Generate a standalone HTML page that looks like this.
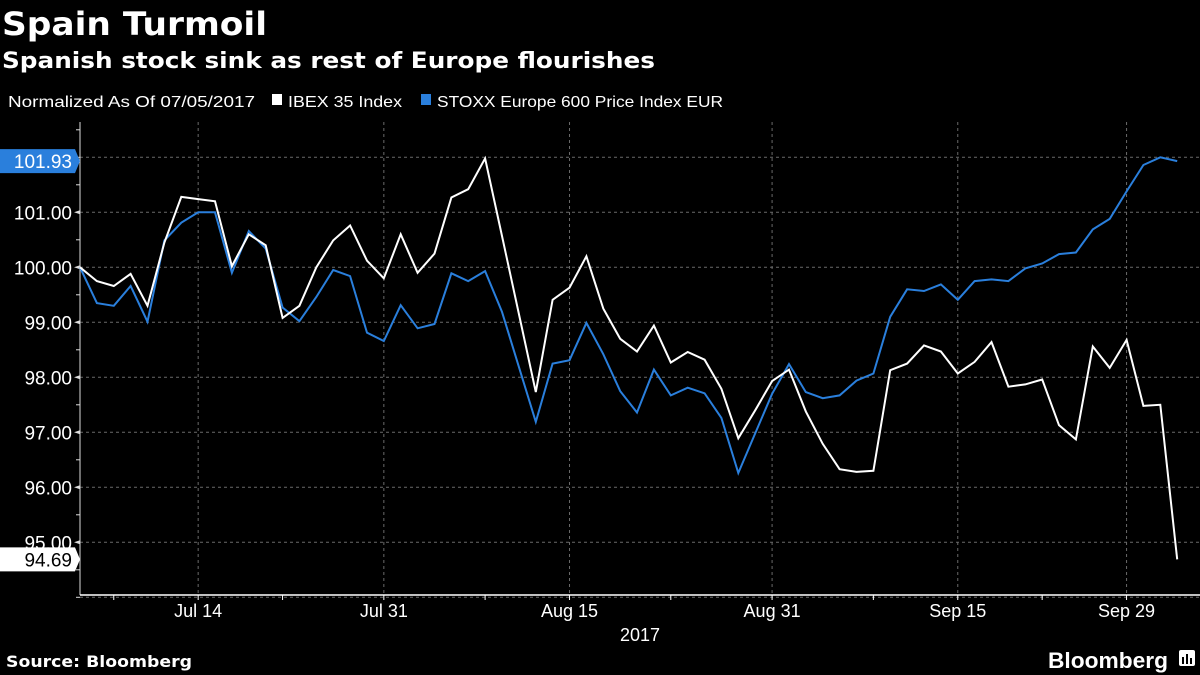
<!DOCTYPE html>
<html><head><meta charset="utf-8"><style>
html,body{margin:0;padding:0;background:#000;}
svg{display:block;}
text{font-family:"Liberation Sans",sans-serif;}
</style></head><body>
<svg id="chart" width="1200" height="675" viewBox="0 0 1200 675" xmlns="http://www.w3.org/2000/svg">
<rect width="1200" height="675" fill="#000"/>
<text x="2" y="35" fill="#fff" font-size="32" font-weight="bold" style="font-family:'DejaVu Sans',sans-serif" textLength="265" lengthAdjust="spacingAndGlyphs">Spain Turmoil</text>
<text x="2" y="68" fill="#fff" font-size="22" font-weight="bold" style="font-family:'DejaVu Sans',sans-serif" textLength="653" lengthAdjust="spacingAndGlyphs">Spanish stock sink as rest of Europe flourishes</text>
<text x="8" y="107" fill="#fff" font-size="16" textLength="247" lengthAdjust="spacingAndGlyphs">Normalized As Of 07/05/2017</text>
<g>
<rect x="272" y="94" width="10" height="11" fill="#fff"/>
<text x="288" y="107" fill="#fff" font-size="16" textLength="114" lengthAdjust="spacingAndGlyphs">IBEX 35 Index</text>
</g>
<g>
<rect x="421" y="94" width="10" height="11" fill="#2a7fdc"/>
<text x="437" y="107" fill="#fff" font-size="16" textLength="286" lengthAdjust="spacingAndGlyphs">STOXX Europe 600 Price Index EUR</text>
</g>
<g id="grid"></g>
<g id="axes"></g>
<g id="series"></g>
<g id="labels"></g>
<text x="640" y="641" fill="#fff" font-size="18" text-anchor="middle">2017</text>
<text x="6" y="667" fill="#fff" font-size="16" font-weight="bold" style="font-family:'DejaVu Sans',sans-serif" textLength="186" lengthAdjust="spacingAndGlyphs">Source: Bloomberg</text>
<text x="1048" y="668" fill="#fff" font-size="22" font-weight="bold" textLength="120" lengthAdjust="spacingAndGlyphs">Bloomberg</text>
<g>
<rect x="1179" y="650" width="16" height="16" rx="2" fill="#fff"/>
<rect x="1182" y="657" width="2" height="7" fill="#000"/><rect x="1186" y="654" width="2" height="10" fill="#000"/><rect x="1190" y="658" width="2" height="6" fill="#000"/>
</g>
</svg>
<script>
const ibex=[100.0,99.75,99.66,99.88,99.30,100.45,101.28,101.24,101.20,100.02,100.60,100.40,99.08,99.30,100.0,100.49,100.76,100.12,99.80,100.6,99.9,100.25,101.27,101.42,101.98,100.57,99.15,97.73,99.41,99.63,100.2,99.25,98.70,98.47,98.94,98.27,98.46,98.32,97.79,96.89,97.40,97.93,98.14,97.38,96.79,96.33,96.28,96.30,98.13,98.25,98.58,98.47,98.07,98.28,98.64,97.83,97.87,97.96,97.13,96.87,98.56,98.17,98.68,97.48,97.50,94.69];
const stoxx=[100.0,99.35,99.30,99.66,99.01,100.49,100.81,101.0,101.0,99.9,100.66,100.34,99.27,99.02,99.46,99.95,99.84,98.81,98.66,99.31,98.89,98.97,99.89,99.75,99.93,99.19,98.19,97.19,98.25,98.31,98.99,98.42,97.75,97.36,98.14,97.67,97.81,97.71,97.26,96.26,96.98,97.7,98.24,97.73,97.62,97.67,97.94,98.07,99.1,99.6,99.57,99.69,99.41,99.75,99.78,99.75,99.98,100.07,100.24,100.27,100.69,100.88,101.38,101.86,102.0,101.93];
const xTickLabels=["Jul 14","Jul 31","Aug 15","Aug 31","Sep 15","Sep 29"];
const xTickIndex=[7,18,29,41,52,62];
const xMinorIndex=[2,12,24,35,47,57];
const yTicks=[95,96,97,98,99,100,101];
const yMinor=[94,94.5,95.5,96.5,97.5,98.5,99.5,100.5,101.5,102,102.5];
const NS="http://www.w3.org/2000/svg";
const X0=80,DX=16.88,Y100=267.3,PY=55;
function xs(i){return X0+i*DX;}
function ys(v){return Y100-(v-100)*PY;}
function mk(tag,attrs,parent){const e=document.createElementNS(NS,tag);for(const k in attrs)e.setAttribute(k,attrs[k]);parent.appendChild(e);return e;}
const grid=document.getElementById('grid'),axes=document.getElementById('axes'),series=document.getElementById('series'),labels=document.getElementById('labels');
const dash={stroke:'#6a6a6a','stroke-width':1,'stroke-dasharray':'3,3'};
yTicks.concat([94,102]).forEach(v=>{
  const l=mk('line',Object.assign({x1:X0,x2:1200,y1:ys(v),y2:ys(v)},dash),grid);
  
  
});
xTickIndex.forEach(i=>{
  const l=mk('line',Object.assign({x1:xs(i),x2:xs(i),y1:122,y2:595},dash),grid);
  
  
});
const ya=mk('line',{x1:X0,x2:X0,y1:122,y2:595,stroke:'#ddd','stroke-width':1},axes);


const xa=mk('line',{x1:X0,x2:1200,y1:595,y2:595,stroke:'#fff','stroke-width':1.5},axes);


yTicks.forEach(v=>{
  mk('path',{d:`M${X0-6} ${ys(v)} L${X0} ${ys(v)-2} L${X0} ${ys(v)+2}Z`,fill:'#ddd'},axes);
  const t=mk('text',{x:72,y:ys(v)+7,fill:'#fff','font-size':19,'text-anchor':'end'},axes);
  t.textContent=v.toFixed(2);
  
  
});
yMinor.forEach(v=>{mk('line',{x1:X0-4,x2:X0,y1:ys(v),y2:ys(v),stroke:'#ddd'},axes);});
xTickIndex.forEach((i,k)=>{
  mk('line',{x1:xs(i),x2:xs(i),y1:595,y2:600,stroke:'#fff'},axes);
  const t=mk('text',{x:xs(i),y:617,fill:'#fff','font-size':18,'text-anchor':'middle'},axes);
  t.textContent=xTickLabels[k];
  
  
});
xMinorIndex.forEach(i=>{mk('line',{x1:xs(i),x2:xs(i),y1:595,y2:600,stroke:'#fff'},axes);});
function line(data,color,name){
  const p=mk('polyline',{points:data.map((v,i)=>xs(i).toFixed(1)+','+ys(v).toFixed(1)).join(' '),fill:'none',stroke:color,'stroke-width':2,'stroke-linejoin':'miter'},series);
  
  
}
line(stoxx,'#2a7fdc','stoxx-line');
line(ibex,'#ffffff','ibex-line');
function endLabel(v,bg,fg,name){
  const y=ys(v);
  const g=mk('g',{},labels);
  
  
  mk('path',{d:`M0 ${y-12} L75 ${y-12} L80 ${y} L75 ${y+12} L0 ${y+12}Z`,fill:bg},g);
  const t=mk('text',{x:72,y:y+7,fill:fg,'font-size':19,'text-anchor':'end'},g);
  t.textContent=v.toFixed(2);
}
endLabel(stoxx[stoxx.length-1],'#2a7fdc','#fff','stoxx-last-value-label');
endLabel(ibex[ibex.length-1],'#fff','#000','ibex-last-value-label');
</script>
</body></html>
